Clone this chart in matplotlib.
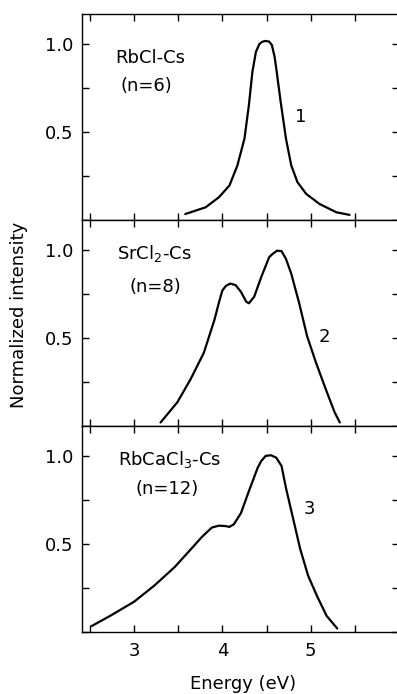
import matplotlib
matplotlib.use("Agg")
import matplotlib.pyplot as plt
from matplotlib.ticker import MultipleLocator

# curve 1: RbCl-Cs (n=6)
e1 = [3.58, 3.81, 3.96, 4.08, 4.17, 4.25, 4.30, 4.34, 4.38, 4.42, 4.455, 4.49, 4.53, 4.56,
      4.59, 4.61, 4.66, 4.72, 4.78, 4.85, 4.95, 5.10, 5.29, 5.44]
i1 = [0.034, 0.072, 0.129, 0.196, 0.31, 0.462, 0.652, 0.842, 0.956, 1.0, 1.013, 1.017, 1.013, 0.994,
      0.93, 0.861, 0.671, 0.462, 0.31, 0.215, 0.148, 0.091, 0.044, 0.029]

# curve 2: SrCl2-Cs (n=8)
e2 = [3.30, 3.49, 3.64, 3.79, 3.91, 3.96, 4.00, 4.04, 4.09, 4.15, 4.21, 4.27, 4.30, 4.36,
      4.44, 4.53, 4.57, 4.62, 4.67, 4.72, 4.78, 4.87, 4.96, 5.06, 5.17, 5.27, 5.33]
i2 = [0.02, 0.135, 0.266, 0.416, 0.603, 0.70, 0.77, 0.796, 0.809, 0.80, 0.762, 0.706, 0.697, 0.734,
      0.846, 0.959, 0.978, 0.996, 0.993, 0.949, 0.865, 0.697, 0.509, 0.36, 0.21, 0.079, 0.02]

# curve 3: RbCaCl3-Cs (n=12)
e3 = [2.52, 2.73, 3.00, 3.23, 3.46, 3.65, 3.77, 3.88, 3.96, 4.03, 4.08, 4.13, 4.21,
      4.30, 4.40, 4.44, 4.49, 4.55, 4.61, 4.67, 4.72, 4.80, 4.88, 4.97, 5.07, 5.18, 5.30]
i3 = [0.034, 0.092, 0.172, 0.264, 0.369, 0.474, 0.541, 0.593, 0.604, 0.602, 0.597, 0.612, 0.675,
      0.80, 0.933, 0.971, 1.0, 1.004, 0.99, 0.943, 0.818, 0.646, 0.474, 0.321, 0.206, 0.092, 0.02]

names = ["RbCl-Cs", "SrCl$_2$-Cs", "RbCaCl$_3$-Cs"]
ns = ["(n=6)", "(n=8)", "(n=12)"]
nums = ["1", "2", "3"]
ytick_vals = [0.5, 1.0]
ytick_labels = ["0.5", "1.0"]
xtick_vals = [3, 4, 5]

plt.rcParams['font.family'] = ['DejaVu Sans']

fig = plt.figure(figsize=(3.97, 6.94), dpi=100)
left, right = 82 / 397, 1.005
bottom = 1 - 632 / 694
top = 1 - 14 / 694
h = (top - bottom) / 3

curves = [(e1, i1), (e2, i2), (e3, i3)]
name_pos = [(3.18, 0.92), (3.23, 0.98), (3.40, 0.98)]
n_pos = [(3.14, 0.76), (3.24, 0.79), (3.37, 0.81)]
num_pos = [(4.89, 0.585), (5.15, 0.506), (4.99, 0.70)]

axes = []
for k in range(3):
    ax = fig.add_axes([left, top - (k + 1) * h, right - left, h])
    axes.append(ax)
    e, i = curves[k]
    ax.plot(e, i, color='black', lw=1.6, solid_joinstyle='round', solid_capstyle='round')
    ax.set_xlim(2.41, 6.0)
    ax.set_ylim(0.0, 1.17)
    ax.xaxis.set_major_locator(MultipleLocator(1))
    ax.xaxis.set_minor_locator(MultipleLocator(0.5))
    ax.set_yticks(ytick_vals)
    ax.set_yticklabels(ytick_labels)
    ax.yaxis.set_minor_locator(MultipleLocator(0.25))
    ax.tick_params(which='both', direction='in', top=True, right=True,
                   width=1.0, length=5, labelsize=13)
    ax.tick_params(axis='y', pad=6)
    for s in ax.spines.values():
        s.set_linewidth(1.0)
    if k < 2:
        ax.tick_params(labelbottom=False)
    ax.text(*name_pos[k], names[k], ha='center', va='center', fontsize=13)
    ax.text(*n_pos[k], ns[k], ha='center', va='center', fontsize=13)
    ax.text(*num_pos[k], nums[k], ha='center', va='center', fontsize=13)

axes[2].set_xticks(xtick_vals)
axes[2].set_xticklabels([str(v) for v in xtick_vals])
axes[2].tick_params(axis='x', pad=7)
fig.text(243 / 397, 1 - 689 / 694, "Energy (eV)", ha='center', va='baseline', fontsize=13)
fig.text(0.047, 0.547, "Normalized intensity", rotation=90, ha='center', va='center', fontsize=13)

fig.savefig("out.png", dpi=100)
